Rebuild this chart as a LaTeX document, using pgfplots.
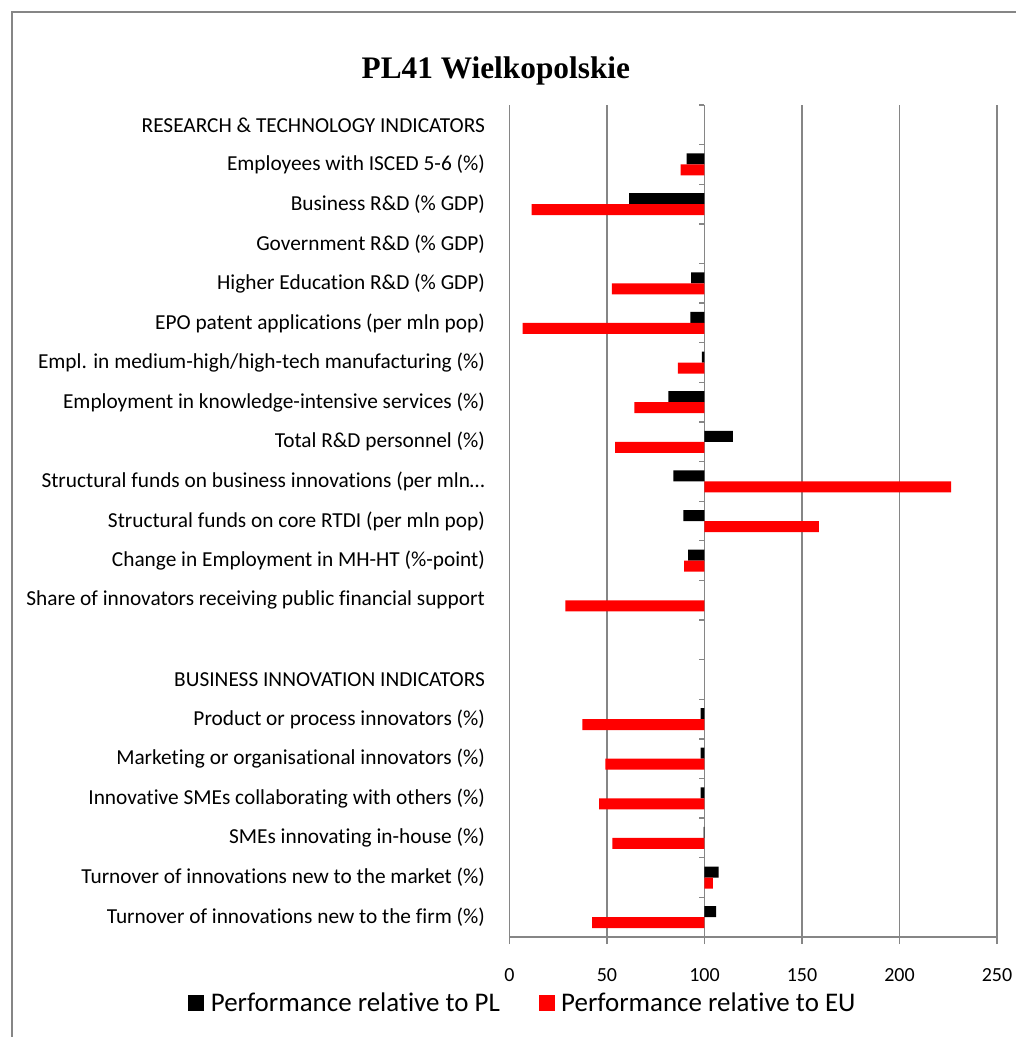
\documentclass[border=0pt]{standalone}
\usepackage{pgfplots}
\usepackage{pgfplotstable}
\pgfplotsset{compat=1.18}
\usepackage{fontspec}
\setmainfont{Carlito}[Ligatures=NoCommon]
\newfontfamily\titlefont{Liberation Serif}
\definecolor{gridgray}{HTML}{868686}

\pgfplotstableread{
y val
1 90.8
2 61.4
4 93.2
5 92.7
6 98.6
7 81.5
8 114.5
9 84.1
10 89.2
11 91.6
15 98.0
16 98.0
17 98.0
18 99.5
19 107.2
20 106.0
}\plTable

\pgfplotstableread{
y val
1 87.7
2 11.3
4 52.5
5 6.7
6 86.3
7 64.1
8 54.2
9 226.5
10 158.7
11 89.6
12 28.7
15 37.4
16 49.2
17 46.0
18 52.7
19 104.3
20 42.4
}\euTable

\begin{document}
\begin{tikzpicture}
\useasboundingbox (0pt,0pt) rectangle (762pt,-777.75pt);
\draw[gridgray, line width=1.2pt] (9pt,-777.75pt) -- (9pt,-9pt) -- (762pt,-9pt);
\begin{axis}[
  at={(382.125pt,-702.75pt)}, anchor=south west,
  scale only axis, width=365.6pt, height=624pt,
  xbar, bar width=8.25pt,
  xmin=-100, xmax=150, ymin=-0.5, ymax=20.5, y dir=reverse,
  x filter/.expression={x-100},
  xtick={-100,-50,0,50,100,150}, xticklabels={0,50,100,150,200,250},
  ytick={0,...,20},
  yticklabels={RESEARCH \& TECHNOLOGY INDICATORS,
    Employees with ISCED 5-6 (\%),
    Business R\&D (\% GDP),
    Government R\&D (\% GDP),
    Higher Education R\&D (\% GDP),
    EPO patent applications (per mln pop),
    Empl. in medium-high/high-tech manufacturing (\%),
    Employment in knowledge-intensive services (\%),
    Total R\&D personnel (\%),
    Structural funds on business innovations (per mln…,
    Structural funds on core RTDI (per mln pop),
    Change in Employment in MH-HT (\%-point),
    Share of innovators receiving public financial support,
    {},
    BUSINESS INNOVATION INDICATORS\ ,
    Product or process innovators (\%),
    Marketing or organisational innovators (\%),
    Innovative SMEs collaborating with others (\%),
    SMEs innovating in-house (\%),
    Turnover of innovations new to the market (\%),
    Turnover of innovations new to the firm (\%)},
  axis lines*=left,
  y axis line style={draw=none},
  x axis line style={gridgray, line width=1pt},
  xmajorgrids, major grid style={gridgray, line width=1pt},
  xtick style={gridgray, line width=1pt},
  tick align=outside, major tick length=5.25pt,
  ytick style={draw=none},
  yticklabel style={font=\fontsize{16}{18}\selectfont, anchor=east, inner sep=0pt, xshift=-13pt},
  xticklabel style={font=\fontsize{15}{17}\selectfont, inner sep=0pt, yshift=-18pt},
  legend style={at={(0.028,-0.079)}, anchor=center, draw=none, legend columns=2,
    font=\fontsize{20.2}{23}\selectfont,
    /tikz/every even column/.append style={column sep=27pt}},
  legend image code/.code={\fill[#1] (0pt,-6pt) rectangle (12pt,6pt); \path (15pt,0pt);},
  clip=false,
]
\addplot[fill=black, draw=none, bar shift=4.125pt] table[x=val, y=y] {\plTable};
\addlegendentry{Performance relative to PL}
\addplot[fill=red, draw=none, bar shift=-4.125pt] table[x=val, y=y] {\euTable};
\addlegendentry{Performance relative to EU}
\pgfplotsinvokeforeach{-0.5,0.5,...,20.5}{
  \draw[gridgray, line width=1pt] (axis cs:0,#1) -- ([xshift=-4pt]axis cs:0,#1);
}
\node[font=\titlefont\bfseries\fontsize{23.5}{26}\selectfont] at (axis description cs:-0.028,1.041) {PL41 Wielkopolskie};
\end{axis}
\end{tikzpicture}
\end{document}
